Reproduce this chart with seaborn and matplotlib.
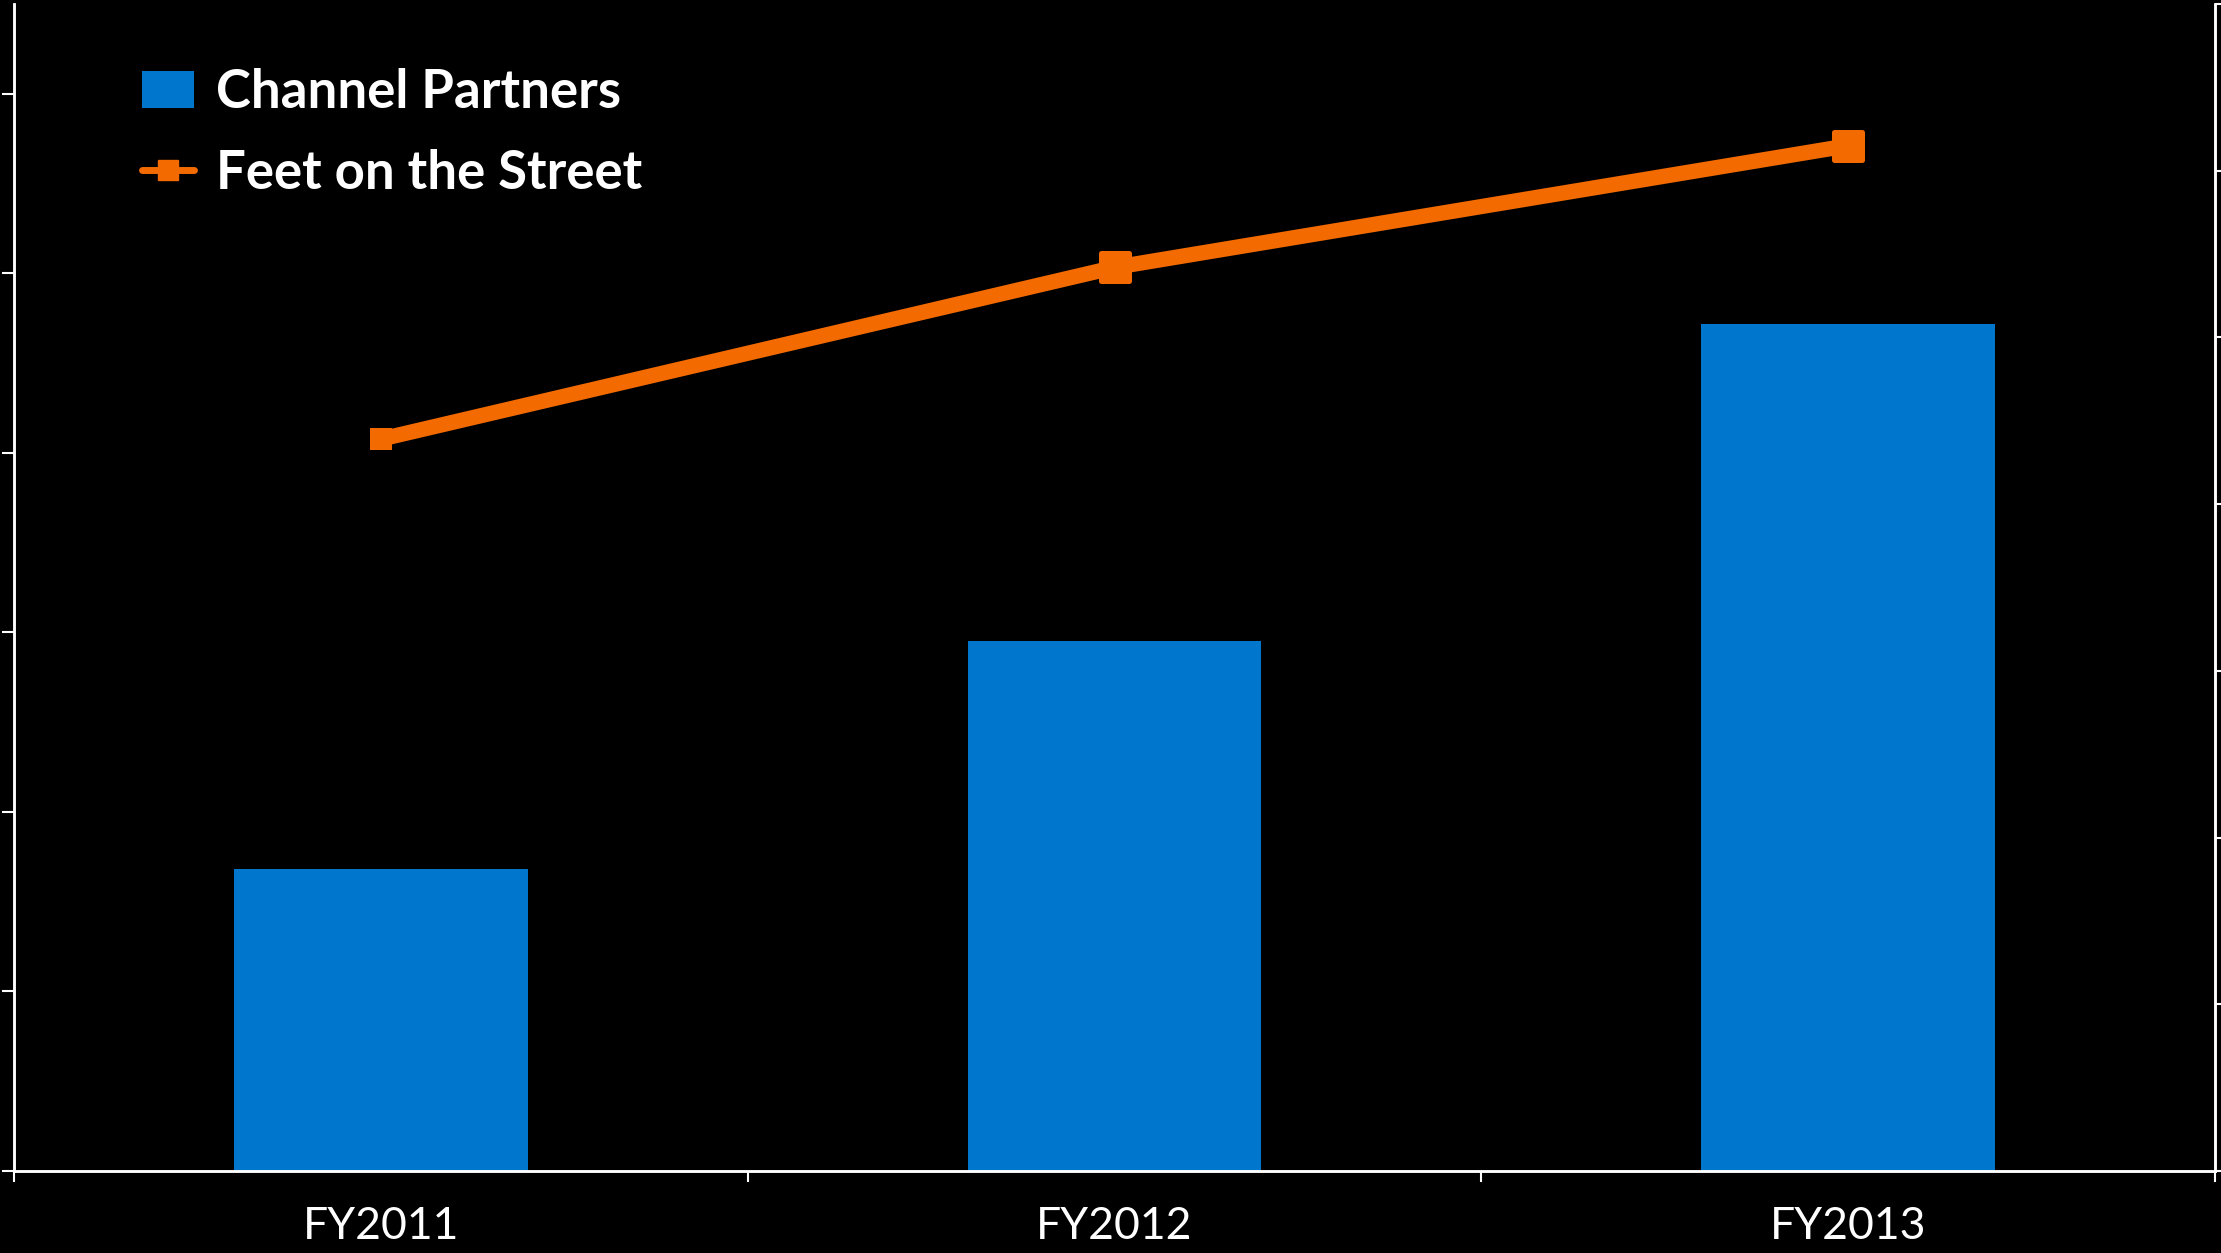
import numpy as np
import matplotlib
matplotlib.use('Agg')
import matplotlib.pyplot as plt
import seaborn as sns
from matplotlib.patches import Patch
from matplotlib.lines import Line2D
from matplotlib.markers import MarkerStyle

years = ['FY2011', 'FY2012', 'FY2013']
channel_partners = [1.68, 2.95, 4.72]    # left axis (no labels on the original)
feet_on_street = [4.39, 5.42, 6.15]      # right axis
marker_px = [22, 33, 33]                 # first marker is smaller in the original

blue = '#0077CC'
orange = '#F26A00'

sns.set_theme(style='ticks')
plt.rcParams['font.family'] = ['Lato', 'DejaVu Sans']
plt.rcParams['axes.facecolor'] = 'black'
plt.rcParams['figure.facecolor'] = 'black'

fig = plt.figure(figsize=(22.21, 12.53), dpi=100)
ax = fig.add_axes([14/2221, 1 - 1171/1253, (2215-14)/2221, (1171-4)/1253])

sns.barplot(x=years, y=channel_partners, color=blue, width=0.4, saturation=1,
            edgecolor='none', linewidth=0, ax=ax)
ax.set_ylim(0, 6.5)
ax.set_xlim(-0.5, 2.5)
ax.set_yticks(range(0, 7))
ax.set_yticklabels([])
ax.set_xticks(range(len(years)))
ax.set_xticklabels(years, fontsize=32, color='white')
ax.set_xticks([-0.5, 0.5, 1.5, 2.5], minor=True)
ax.tick_params(axis='x', which='major', length=0, pad=25)
ax.tick_params(axis='x', which='minor', length=8, width=1.5, color='white', direction='out')
ax.tick_params(axis='y', length=8.5, width=1.5, color='white', direction='out')
ax.set_xlabel('')
ax.set_ylabel('')

ax2 = ax.twinx()
sns.lineplot(x=years, y=feet_on_street, color=orange, linewidth=11, ax=ax2, zorder=3,
             solid_capstyle='butt')
for i in range(len(years)):
    edge = 5 if i else 0
    ax2.plot(years[i], feet_on_street[i], marker=MarkerStyle('s', joinstyle='round'),
             color=orange, markersize=(marker_px[i] - edge) * 0.72,
             markeredgewidth=edge * 0.72, markeredgecolor=orange, zorder=4)
ax2.set_ylim(0, 7)
ax2.set_yticks(range(0, 8))
ax2.set_yticklabels([])
ax2.tick_params(axis='y', length=8.5, width=1.5, color='white', direction='out')
ax2.set_ylabel('')

for a in (ax, ax2):
    for side in ['left', 'right', 'bottom']:
        a.spines[side].set_color('white')
        a.spines[side].set_linewidth(1.8)
    a.spines['top'].set_visible(False)

handles = [Patch(facecolor=blue, edgecolor='none'),
           Line2D([0], [0], color=orange, linewidth=5, marker='s', markersize=14,
                  solid_capstyle='round')]
leg = ax.legend(handles, ['Channel Partners', 'Feet on the Street'],
                loc='upper left', bbox_to_anchor=(0.058, 0.945), frameon=False,
                prop={'size': 38, 'weight': 'bold'}, labelcolor='white',
                handlelength=1.0, handletextpad=0.4, labelspacing=0.6,
                borderpad=0, borderaxespad=0)

fig.savefig('out.png', dpi=100, facecolor='black')
